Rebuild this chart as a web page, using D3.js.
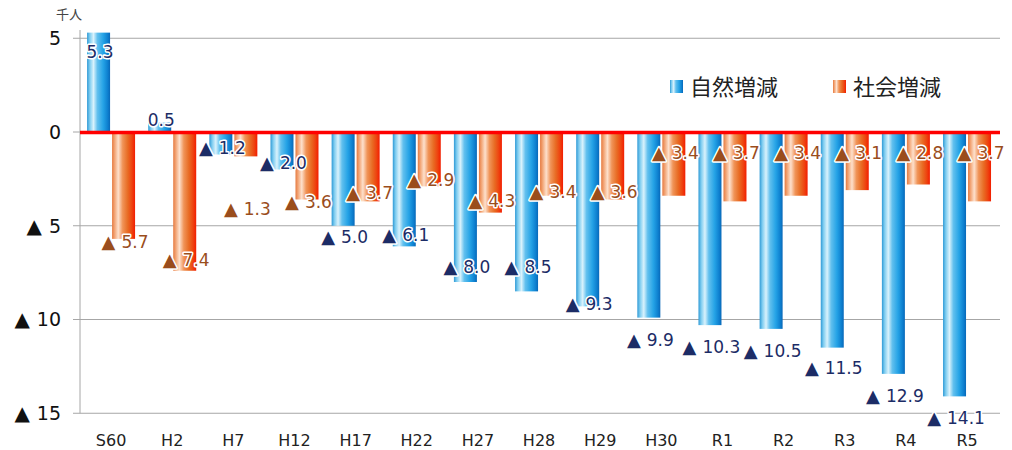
<!DOCTYPE html>
<html>
<head>
<meta charset="utf-8">
<script src="https://cdn.jsdelivr.net/npm/d3@7"></script>
<style>
  html, body { margin: 0; padding: 0; background: #fff; }
  svg { display: block; }
</style>
</head>
<body>
<div id="chart"></div>
<script>
const categories = ["S60", "H2", "H7", "H12", "H17", "H22", "H27", "H28", "H29", "H30", "R1", "R2", "R3", "R4", "R5"];
const naturalChange = [5.3, 0.5, -1.2, -2.0, -5.0, -6.1, -8.0, -8.5, -9.3, -9.9, -10.3, -10.5, -11.5, -12.9, -14.1];
const socialChange = [-5.7, -7.4, -1.3, -3.6, -3.7, -2.9, -4.3, -3.4, -3.6, -3.4, -3.7, -3.4, -3.1, -2.8, -3.7];
const seriesNames = ["自然増減", "社会増減"];
const yTicks = [5, 0, -5, -10, -15];
const unitLabel = "千人";

// where the data labels were dragged to in the original (value units)
const naturalLabelAt = [4.27, 0.64, -0.85, -1.65, -5.6, -5.49, -7.2, -7.2, -9.17, -11.09, -11.47, -11.68, -12.59, -14.08, -15.25];
const socialLabelAt = [-5.87, -6.83, -4.11, -3.73, -3.25, -2.56, -3.68, -3.2, -3.2, -1.12, -1.12, -1.12, -1.12, -1.12, -1.12];

const width = 1012;
const height = 450;
const left = 80, right = 1000;
const FONT = "DejaVu Sans, Verdana, sans-serif";

const svg = d3.select("#chart")
    .append("svg")
    .attr("width", width)
    .attr("height", height)
    .attr("viewBox", [0, 0, width, height]);

// グラデーション
const defs = svg.append("defs");
function grad(id, stops) {
    const g = defs.append("linearGradient")
        .attr("id", id)
        .attr("x1", "0%").attr("x2", "100%")
        .attr("y1", "0%").attr("y2", "0%");
    stops.forEach(s => g.append("stop").attr("offset", s[0]).attr("stop-color", s[1]));
}
grad("gBlue", [["0%", "#2f9ad6"], ["12%", "#7fcdf0"], ["28%", "#d9f2fc"], ["45%", "#62c0ee"], ["70%", "#25a3e6"], ["90%", "#0d7fcf"], ["100%", "#0868b8"]]);
grad("gOrange", [["0%", "#e67a40"], ["12%", "#f3a87a"], ["27%", "#fde0cc"], ["46%", "#f09458"], ["68%", "#e86c24"], ["86%", "#ee4410"], ["100%", "#f21d00"]]);

// scale
const x = d3.scaleBand().domain(categories).range([80.5, 997.6]);
const y = d3.scaleLinear().domain([-15, 5]).range([413.25, 38.25]);
const barW = 23;
const cx = d => x(d) + x.bandwidth() / 2;

// grid
svg.append("g")
    .selectAll("line")
    .data(yTicks.filter(t => t !== 0))
    .join("line")
    .attr("x1", 73).attr("x2", right)
    .attr("y1", d => y(d)).attr("y2", d => y(d))
    .attr("stroke", "#a6a6a6")
    .attr("stroke-width", 1);

svg.append("line")
    .attr("x1", left).attr("x2", left)
    .attr("y1", 30).attr("y2", y(-15))
    .attr("stroke", "#a6a6a6");

svg.append("line")
    .attr("x1", 73).attr("x2", left)
    .attr("y1", y(0)).attr("y2", y(0))
    .attr("stroke", "#a6a6a6");

// ▲ + 数値 のテキスト
function triText(sel, v, digits, triSize, gap) {
    if (v < 0) {
        sel.append("tspan").attr("font-size", triSize).text("▲");
        sel.append("tspan").attr("dx", gap).text(Math.abs(v).toFixed(digits));
    } else {
        sel.text(v.toFixed(digits));
    }
}

// y labels
svg.append("g")
    .selectAll("text")
    .data(yTicks)
    .join("text")
    .attr("x", 61)
    .attr("y", d => y(d))
    .attr("dy", "0.36em")
    .attr("text-anchor", "end")
    .attr("font-family", FONT)
    .attr("font-size", 19)
    .attr("fill", "#111")
    .each(function (d) { triText(d3.select(this), d, 0, 20, 7); });

svg.append("text")
    .attr("x", 56).attr("y", 19)
    .attr("font-family", "Noto Sans CJK JP, sans-serif")
    .attr("font-size", 13)
    .attr("fill", "#444")
    .text(unitLabel);

// bars
const bars = svg.append("g");
bars.selectAll("rect.nat")
    .data(categories)
    .join("rect")
    .attr("class", "nat")
    .attr("x", d => cx(d) - 24)
    .attr("width", barW)
    .attr("y", (d, i) => Math.min(y(0), y(naturalChange[i])))
    .attr("height", (d, i) => Math.abs(y(naturalChange[i]) - y(0)))
    .attr("fill", "url(#gBlue)");

bars.selectAll("rect.soc")
    .data(categories)
    .join("rect")
    .attr("class", "soc")
    .attr("x", d => cx(d) + 1)
    .attr("width", barW)
    .attr("y", (d, i) => Math.min(y(0), y(socialChange[i])))
    .attr("height", (d, i) => Math.abs(y(socialChange[i]) - y(0)))
    .attr("fill", "url(#gOrange)");

// zero line
svg.append("line")
    .attr("x1", left).attr("x2", right)
    .attr("y1", y(0) + 0.5).attr("y2", y(0) + 0.5)
    .attr("stroke", "#ff0000")
    .attr("stroke-width", 3.5);

// x labels
svg.append("g")
    .selectAll("text")
    .data(categories)
    .join("text")
    .attr("x", d => cx(d))
    .attr("y", 440)
    .attr("dy", "0.36em")
    .attr("text-anchor", "middle")
    .attr("font-family", FONT)
    .attr("font-size", 16)
    .attr("fill", "#222")
    .text(d => d);

// data labels
function labels(values, at, dx, color) {
    svg.append("g")
        .selectAll("text")
        .data(categories)
        .join("text")
        .attr("x", d => cx(d) + dx)
        .attr("y", (d, i) => y(at[i]))
        .attr("dy", "0.36em")
        .attr("text-anchor", "middle")
        .attr("font-family", FONT)
        .attr("font-size", 17)
        .attr("fill", color)
        .attr("stroke", "#fff")
        .attr("stroke-width", 3)
        .attr("stroke-linejoin", "round")
        .attr("paint-order", "stroke")
        .each(function (d, i) { triText(d3.select(this), values[i], 1, 18, 6); });
}
labels(naturalChange, naturalLabelAt, -11, "#1c2c66");
labels(socialChange, socialLabelAt, 14, "#9a4d1c");

// legend
const legend = svg.append("g");
[["gBlue", 670], ["gOrange", 833]].forEach((l, i) => {
    legend.append("rect")
        .attr("x", l[1]).attr("y", 80)
        .attr("width", 13).attr("height", 13)
        .attr("fill", "url(#" + l[0] + ")");
    legend.append("text")
        .attr("x", l[1] + 20).attr("y", 87)
        .attr("dy", "0.36em")
        .attr("font-family", "Noto Sans CJK JP, sans-serif")
        .attr("font-size", 22)
        .attr("fill", "#222")
        .text(seriesNames[i]);
});
</script>
</body>
</html>
